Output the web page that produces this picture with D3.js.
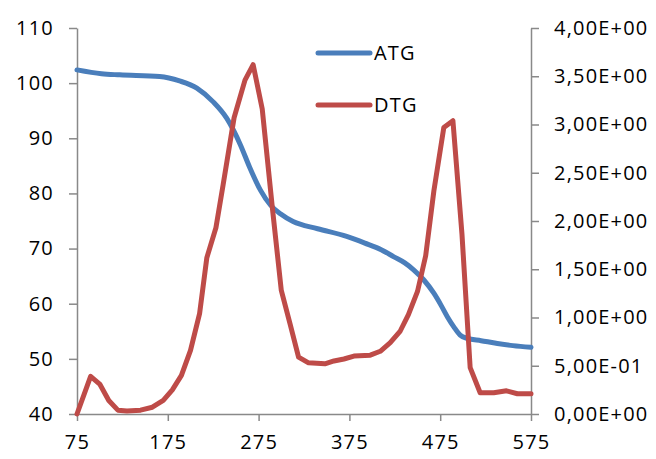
<!DOCTYPE html>
<html><head><meta charset="utf-8">
<script src="https://cdn.jsdelivr.net/npm/d3@7"></script>
<style>
html,body{margin:0;padding:0;background:#fff;}
svg text{font-family:"Open Sans",sans-serif;font-size:20px;fill:#000;letter-spacing:1.2px;}
</style></head>
<body><svg id="c" width="656" height="459"></svg>
<script>
// ATG (left axis, %)
const atgT = [75, 102, 122, 166, 188, 207, 225, 240, 255, 265, 277, 288, 299, 313, 340, 372, 392, 410, 424, 436, 446, 457, 468, 476, 483, 490, 497, 505, 520, 538, 555, 575];
const atgV = [102.4, 101.7, 101.5, 101.2, 100.4, 99.1, 96.6, 93.6, 88.8, 84.8, 80.6, 77.9, 76.3, 74.9, 73.6, 72.2, 71.0, 69.8, 68.5, 67.4, 66.1, 64.3, 61.9, 59.7, 57.6, 55.8, 54.3, 53.7, 53.3, 52.8, 52.4, 52.1];
// DTG (right axis)
const dtgT = [75, 90, 100, 110, 120, 130, 145, 158, 170, 180, 190, 200, 210, 218, 228, 236, 248, 260, 269, 279, 290, 300, 310, 319, 330, 348, 358, 369, 380, 398, 409, 420, 431, 440, 450, 459, 468, 479, 489, 499, 508, 519, 534, 548, 560, 575];
const dtgV = [0.00, 0.39, 0.31, 0.14, 0.04, 0.03, 0.04, 0.07, 0.14, 0.25, 0.40, 0.66, 1.04, 1.62, 1.93, 2.38, 3.07, 3.46, 3.62, 3.16, 2.15, 1.28, 0.92, 0.59, 0.53, 0.52, 0.55, 0.57, 0.60, 0.61, 0.65, 0.74, 0.86, 1.03, 1.27, 1.64, 2.31, 2.97, 3.04, 1.86, 0.48, 0.22, 0.22, 0.24, 0.21, 0.21];
const xTicks = [75, 175, 275, 375, 475, 575];
const yLeftTicks = [40, 50, 60, 70, 80, 90, 100, 110];
const yRightTicks = [0, 0.5, 1, 1.5, 2, 2.5, 3, 3.5, 4];
const seriesNames = ["ATG", "DTG"];
const colors = ["#4a7ebb", "#be4b48"];

const svg = d3.select("#c");
const L = 77, R = 531, T = 28, B = 414;
const x = d3.scaleLinear().domain([75, 575]).range([L, R]);
const yL = d3.scaleLinear().domain([40, 110]).range([B, T]);
const yR = d3.scaleLinear().domain([0, 4]).range([B, T]);

function sci(v){
  if (v === 0) return "0,00E+00";
  const e = Math.floor(Math.log10(v));
  const m = (v / Math.pow(10, e)).toFixed(2).replace(".", ",");
  const s = e < 0 ? "-" : "+";
  return m + "E" + s + String(Math.abs(e)).padStart(2, "0");
}

const axisColor = "#898989";
function styleAxis(g){
  g.select(".domain").attr("stroke", axisColor).attr("stroke-width", 1.5);
  g.selectAll(".tick line").attr("stroke", axisColor).attr("stroke-width", 1.5);
  g.selectAll("text").attr("font-family", null).attr("font-size", null).attr("fill", "#000");
}

svg.append("g").attr("transform", `translate(0,${B})`)
  .call(d3.axisBottom(x).tickValues(xTicks).tickSize(7).tickSizeOuter(0).tickPadding(14).tickFormat(d3.format("d")))
  .call(styleAxis);
svg.append("g").attr("transform", `translate(${L},0)`)
  .call(d3.axisLeft(yL).tickValues(yLeftTicks).tickSize(8).tickSizeOuter(0).tickPadding(15).tickFormat(d3.format("d")))
  .call(styleAxis);
svg.append("g").attr("transform", `translate(${R},0)`)
  .call(d3.axisRight(yR).tickValues(yRightTicks).tickSize(8).tickSizeOuter(0).tickPadding(15).tickFormat(sci))
  .call(styleAxis);

const atg = atgT.map((t, i) => [t, atgV[i]]);
const dtg = dtgT.map((t, i) => [t, dtgV[i]]);

svg.append("path").datum(atg)
  .attr("fill", "none").attr("stroke", colors[0]).attr("stroke-width", 5)
  .attr("stroke-linejoin", "round").attr("stroke-linecap", "round")
  .attr("d", d3.line().x(d => x(d[0])).y(d => yL(d[1])).curve(d3.curveMonotoneX));
svg.append("path").datum(dtg)
  .attr("fill", "none").attr("stroke", colors[1]).attr("stroke-width", 5)
  .attr("stroke-linejoin", "round").attr("stroke-linecap", "round")
  .attr("d", d3.line().x(d => x(d[0])).y(d => yR(d[1])));

// legend
const leg = svg.append("g");
seriesNames.forEach((n, i) => {
  const yy = 53 + i * 52;
  leg.append("line").attr("x1", 318).attr("x2", 370).attr("y1", yy).attr("y2", yy)
    .attr("stroke", colors[i]).attr("stroke-width", 5).attr("stroke-linecap", "round");
  leg.append("text").attr("x", 374).attr("y", yy + 7).text(n);
});
</script></body></html>
